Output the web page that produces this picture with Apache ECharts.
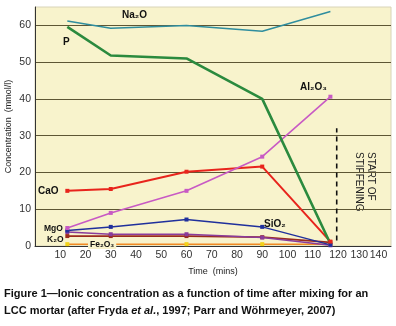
<!DOCTYPE html>
<html>
<head>
<meta charset="utf-8">
<script src="https://cdn.jsdelivr.net/npm/echarts@6/dist/echarts.min.js"></script>
<style>
  html, body { margin: 0; padding: 0; background: #fff; }
  #main { width: 396px; height: 326px; }
</style>
</head>
<body>
<div id="main"></div>
<script>
// sampling times (mins)
var times = [12.8, 30, 60, 90, 117];

// concentrations (mmol/l)
var na2o  = [61.2, 59.2, 60.0, 58.4, 63.8];
var p     = [59.6, 51.8, 51.0, 40.0, 0.6];
var al2o3 = [4.9, 9.0, 15.0, 24.3, 40.6];
var cao   = [15.0, 15.5, 20.2, 21.6, 1.2];
var sio2  = [4.2, 5.2, 7.2, 5.2, 0.3];
var mgo   = [3.8, 3.2, 3.2, 2.3, 0.2];
var k2o   = [2.7, 2.7, 2.7, 2.4, 1.0];
var fe2o3 = [0.5, 0.5, 0.5, 0.5, 0.5];

var stiffenTime = 119.5;
var stiffenRange = [1.5, 32];

var xTicks = [10, 20, 30, 40, 50, 60, 70, 80, 90, 100, 110, 120, 130, 140];
var yTicks = [0, 10, 20, 30, 40, 50, 60];

function pairs(vals) {
  return times.map(function (t, i) { return [t, vals[i]]; });
}

var myChart = echarts.init(document.getElementById('main'));

function line(name, vals, color, width, marker, markerColor) {
  return {
    name: name,
    type: 'line',
    data: pairs(vals),
    showSymbol: !!marker,
    symbol: marker || 'none',
    symbolSize: 4,
    lineStyle: { color: color, width: width },
    itemStyle: { color: markerColor || color },
    animation: false,
    z: 3
  };
}

var lbl = { fontFamily: 'Liberation Sans, Arial', fontWeight: 'bold', fontSize: 10, fill: '#111' };
function txt(x, y, s, extra) {
  return { type: 'text', left: x, top: y, z: 10, style: Object.assign({ text: s }, lbl, extra || {}) };
}

var tickFont = { fontFamily: 'Liberation Sans, Arial', fontSize: 10.5, color: '#333' };

myChart.setOption({
  backgroundColor: '#fff',
  grid: {
    left: 35, right: 5, top: 7, bottom: 80,
    outerBoundsMode: 'none', containLabel: false,
    show: true, backgroundColor: '#f8f3cc', borderColor: '#d8d4b8', borderWidth: 1
  },
  xAxis: {
    type: 'value', min: 0, max: 141, interval: 10,
    name: 'Time  (mins)', nameLocation: 'middle', nameGap: 21, nameMoveOverlap: false,
    nameTextStyle: { fontFamily: 'Liberation Sans, Arial', fontSize: 9, color: '#222' },
    axisLine: { lineStyle: { color: '#333', width: 1 } },
    axisTick: { show: false },
    splitLine: { show: false },
    axisLabel: Object.assign({
      margin: 4, interval: 0, showMaxLabel: false, hideOverlap: false,
      formatter: function (v) {
        if (xTicks.indexOf(v) < 0) return '';
        if (v === 140) return '{m|140}';
        if (v === 130) return '{n|130}';
        return String(v);
      },
      rich: {
        m: Object.assign({ padding: [0, 20, 0, 0] }, tickFont),
        n: Object.assign({ padding: [0, 8, 0, 0] }, tickFont)
      }
    }, tickFont)
  },
  yAxis: {
    type: 'value', min: 0, max: 65, interval: 10,
    name: 'Concentration  (mmol/l)', nameLocation: 'middle', nameGap: 22, nameMoveOverlap: false,
    nameTextStyle: { fontFamily: 'Liberation Sans, Arial', fontSize: 9, color: '#222' },
    axisLine: { show: true, lineStyle: { color: '#333', width: 1 } },
    axisTick: { show: false },
    axisLabel: Object.assign({
      margin: 4,
      formatter: function (v) { return yTicks.indexOf(v) >= 0 ? String(v) : ''; }
    }, tickFont),
    splitLine: {
      lineStyle: { color: '#5e5634', width: 1.2 },
      showMaxLine: false
    }
  },
  series: [
    line('Fe2O3', fe2o3, '#f08a24', 1.5, 'rect', '#f2d21a'),
    line('K2O', k2o, '#9a2a1e', 1.8, 'rect'),
    line('MgO', mgo, '#8a3c9c', 1.5, 'rect'),
    line('SiO2', sio2, '#20309c', 1.5, 'rect'),
    line('CaO', cao, '#e8241c', 2, 'rect'),
    line('Al2O3', al2o3, '#c85ac4', 1.6, 'rect'),
    line('P', p, '#2b8a3e', 2.6),
    line('Na2O', na2o, '#2f8d9e', 1.5),
    {
      name: 'stiffening', type: 'line', animation: false, symbol: 'none',
      data: [[stiffenTime, stiffenRange[0]], [stiffenTime, stiffenRange[1]]],
      lineStyle: { color: '#111', width: 1.6, type: [5, 4] }
    }
  ],
  graphic: [
    txt(122, 10, 'Na₂O'),
    txt(63, 37, 'P'),
    txt(300, 82, 'Al₂O₃'),
    txt(38, 186, 'CaO'),
    txt(264, 219, 'SiO₂'),
    txt(44, 224, 'MgO', { fontSize: 8.5 }),
    txt(47, 235, 'K₂O', { fontSize: 8.5 }),
    txt(88, 240, 'Fe₂O₃', { fontSize: 8.5, backgroundColor: '#f8f3cc', padding: [0, 2] }),
    {
      type: 'text', x: 377, y: 152, rotation: -Math.PI / 2,
      style: {
        text: 'START OF\nSTIFFENING', fontFamily: 'Liberation Sans, Arial', fontSize: 10,
        fill: '#222', lineHeight: 12, align: 'left'
      }
    },
    {
      type: 'text', left: 4, top: 285,
      style: {
        text: '{b|Figure 1—Ionic concentration as a function of time after mixing for an}\n' +
              '{b|LCC mortar (after Fryda }{i|et al.}{b|, 1997; Parr and Wöhrmeyer, 2007)}',
        lineHeight: 17,
        rich: {
          b: { fontFamily: 'Liberation Sans, Arial', fontWeight: 'bold', fontSize: 11, fill: '#111', lineHeight: 17 },
          i: { fontFamily: 'Liberation Sans, Arial', fontWeight: 'bold', fontStyle: 'italic', fontSize: 11, fill: '#111', lineHeight: 17 }
        }
      }
    }
  ]
});
</script>
</body>
</html>
